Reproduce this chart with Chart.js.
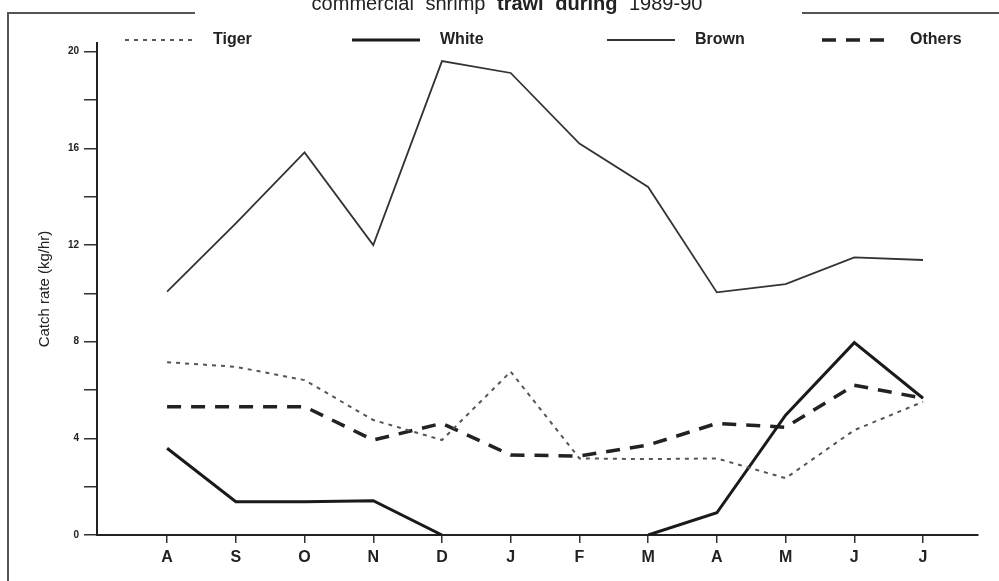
<!DOCTYPE html>
<html lang="en">
<head>
    <meta charset="UTF-8">
    <title>Catch rate by month</title>
    <script src="https://cdn.jsdelivr.net/npm/chart.js"></script>
    <style>
        body { margin: 0; background: #fff; }
        #wrap {
            position: relative;
            width: 999px;
            height: 581px;
            overflow: hidden;
            font-family: "Liberation Sans", Arial, sans-serif;
        }
        #title {
            position: absolute;
            top: -7px;
            left: 0;
            width: 1014px;
            text-align: center;
            font-size: 20px;
            line-height: 20px;
            color: #222;
            word-spacing: 6px;
            white-space: nowrap;
        }
        #title b { font-weight: bold; }
        /* bits of the scanned frame */
        .frame { position: absolute; background: #555; }
        #chartBox { position: absolute; left: 0; top: 0; width: 999px; height: 581px; }
    </style>
</head>
<body>

    <div id="wrap">
        <div id="chartBox">
            <canvas id="myChart"></canvas>
        </div>
        <div id="title">commercial shrimp <b>trawl during</b> 1989-90</div>
        <div class="frame" style="left:7px; top:12px; width:2px; height:569px;"></div>
        <div class="frame" style="left:7px; top:12px; width:188px; height:2px;"></div>
        <div class="frame" style="left:802px; top:12px; width:197px; height:2px;"></div>
    </div>

    <script>
        // Meses (Aug 1989 - Jul 1990)
        const months = ['A', 'S', 'O', 'N', 'D', 'J', 'F', 'M', 'A', 'M', 'J', 'J'];

        // Catch rate (kg/hr)
        const tiger  = [7.15, 6.96, 6.41, 4.76, 3.93, 6.76, 3.17, 3.14, 3.17, 2.35, 4.34, 5.51];
        const white  = [3.59, 1.38, 1.38, 1.42, 0, null, null, 0, 0.92, 4.96, 7.96, 5.66];
        const brown  = [10.07, 12.9, 15.83, 12.0, 19.61, 19.12, 16.2, 14.4, 10.04, 10.38, 11.49, 11.38];
        const others = [5.31, 5.31, 5.31, 3.93, 4.62, 3.31, 3.27, 3.72, 4.62, 4.46, 6.2, 5.66];

        const yTicks = [0, 2, 4, 6, 8, 10, 12, 14, 16, 18, 20];
        const yLabelStep = 4;

        const toPoints = arr => arr.map((v, i) => ({ x: i, y: v }));

        // legenda desenhada a mao, acima da area do grafico
        const sampleLegend = {
            id: 'sampleLegend',
            afterDraw(chart) {
                const ctx = chart.ctx;
                const starts = [125, 352, 607, 822];
                const y = 40;
                chart.data.datasets.forEach((ds, i) => {
                    const x = starts[i];
                    ctx.save();
                    ctx.strokeStyle = ds.borderColor;
                    ctx.lineWidth = ds.borderWidth;
                    ctx.setLineDash(ds.borderDash || []);
                    ctx.beginPath();
                    ctx.moveTo(x, y);
                    ctx.lineTo(x + 68, y);
                    ctx.stroke();
                    ctx.setLineDash([]);
                    ctx.fillStyle = '#222';
                    ctx.font = 'bold 16px "Liberation Sans"';
                    ctx.textBaseline = 'middle';
                    ctx.fillText(ds.label, x + 88, y);
                    ctx.restore();
                });
            }
        };

        const ctx = document.getElementById('myChart').getContext('2d');
        const myChart = new Chart(ctx, {
            type: 'line',
            data: {
                datasets: [
                    {
                        label: 'Tiger',
                        data: toPoints(tiger),
                        borderColor: '#555',
                        borderWidth: 2,
                        borderDash: [4, 5]
                    },
                    {
                        label: 'White',
                        data: toPoints(white),
                        borderColor: '#1a1a1a',
                        borderWidth: 3
                    },
                    {
                        label: 'Brown',
                        data: toPoints(brown),
                        borderColor: '#333',
                        borderWidth: 1.8
                    },
                    {
                        label: 'Others',
                        data: toPoints(others),
                        borderColor: '#222',
                        borderWidth: 3.5,
                        borderDash: [14, 10]
                    }
                ]
            },
            options: {
                responsive: true,
                maintainAspectRatio: false,
                animation: false,
                spanGaps: false,
                elements: {
                    point: { radius: 0, hoverRadius: 0 },
                    line: { tension: 0, fill: false }
                },
                layout: { padding: { top: 43, right: 21, left: 0, bottom: 0 } },
                plugins: {
                    legend: { display: false },
                    tooltip: { enabled: false }
                },
                scales: {
                    x: {
                        type: 'linear',
                        min: -1.02,
                        max: 11.8,
                        afterBuildTicks: axis => {
                            axis.ticks = months.map((m, i) => ({ value: i }));
                        },
                        afterFit: axis => { axis.height = 46; },
                        ticks: {
                            autoSkip: false,
                            maxRotation: 0,
                            padding: 5,
                            color: '#222',
                            font: { family: 'Liberation Sans', size: 16, weight: 'bold' },
                            callback: v => months[v]
                        },
                        grid: {
                            drawOnChartArea: false,
                            tickLength: 8,
                            tickColor: '#333',
                            lineWidth: 1.5
                        },
                        border: { color: '#222', width: 2 }
                    },
                    y: {
                        min: 0,
                        max: 20.36,
                        afterBuildTicks: axis => {
                            axis.ticks = yTicks.map(v => ({ value: v }));
                        },
                        afterFit: axis => { axis.width = 97; },
                        ticks: {
                            padding: 5,
                            color: '#222',
                            font: { family: 'Liberation Sans', size: 10, weight: 'bold' },
                            callback: v => (v % yLabelStep === 0 ? v : '')
                        },
                        grid: {
                            drawOnChartArea: false,
                            tickLength: 13,
                            tickColor: '#333',
                            lineWidth: 1.5
                        },
                        border: { color: '#222', width: 2 },
                        title: {
                            display: true,
                            text: 'Catch rate (kg/hr)',
                            color: '#222',
                            font: { family: 'Liberation Sans', size: 15 },
                            padding: { top: 36, bottom: 0 }
                        }
                    }
                }
            },
            plugins: [sampleLegend]
        });
    </script>

</body>
</html>
